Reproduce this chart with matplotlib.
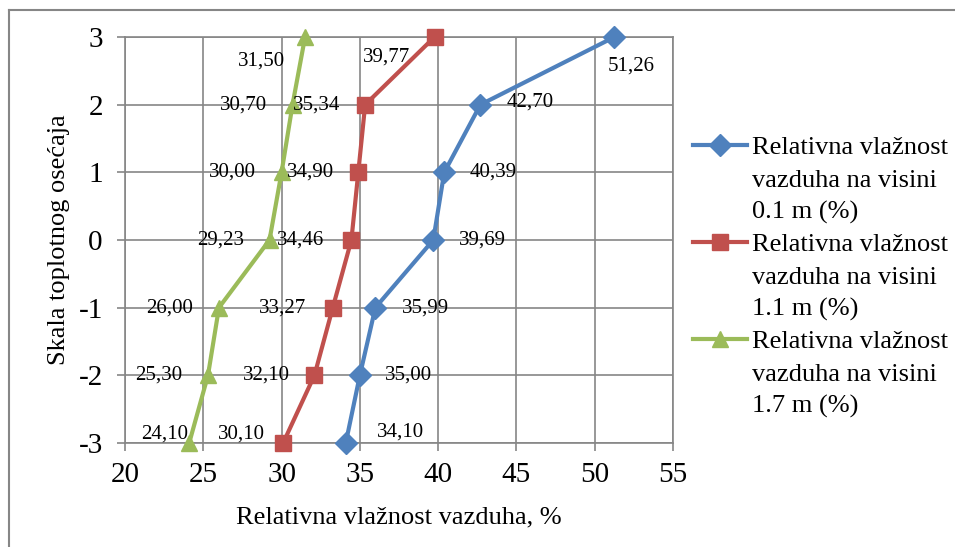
import matplotlib.pyplot as plt
from matplotlib.lines import Line2D

plt.rcParams["font.family"] = ["Liberation Serif", "DejaVu Serif"]
plt.rcParams["axes.unicode_minus"] = False

levels = [-3, -2, -1, 0, 1, 2, 3]
rh_01 = [34.10, 35.00, 35.99, 39.69, 40.39, 42.70, 51.26]
rh_11 = [30.10, 32.10, 33.27, 34.46, 34.90, 35.34, 39.77]
rh_17 = [24.10, 25.30, 26.00, 29.23, 30.00, 30.70, 31.50]

seriesNames = ["0.1 m (%)", "1.1 m (%)", "1.7 m (%)"]
colors = ["#4F81BD", "#C0504D", "#9BBB59"]
markers = ["D", "s", "^"]
markerSizes = [11, 12, 12]

# label offsets (pixels) per point, roughly like the excel layout
offsets_01 = [(55, 11), (49, 0), (50, 0), (49, 0), (49, 0), (50, 3), (17, -29)]
offsets_11 = [(-42, 9), (-48, 0), (-50, 0), (-51, 0), (-48, 0), (-49, 0), (-48, -20)]
offsets_17 = [(-25, 9), (-49, 0), (-49, 0), (-49, 0), (-49, 0), (-49, 0), (-44, -24)]

fig = plt.figure(figsize=(9.55, 5.47), dpi=100)
ax = fig.add_axes([125 / 955, 1 - 443 / 547, 548 / 955, 406 / 547])

allData = [rh_01, rh_11, rh_17]
allOffsets = [offsets_01, offsets_11, offsets_17]
handles = []
for vals, col, mk, ms, offs in zip(allData, colors, markers, markerSizes, allOffsets):
    ln, = ax.plot(vals, levels, color=col, linewidth=3, marker=mk,
                  markersize=ms, zorder=3, clip_on=False)
    handles.append(ln)
    for v, lv, off in zip(vals, levels, offs):
        ax.annotate(("%.2f" % v).replace(".", ","), (v, lv), xytext=off,
                    textcoords="offset pixels", ha="center", va="center",
                    fontsize=15, color="black", zorder=4)

ax.set_xlim(20, 55)
ax.set_ylim(-3, 3)
ax.set_xticks(range(20, 56, 5))
ax.set_yticks(levels)
ax.grid(True, color="#868686", linewidth=1.2)
ax.set_axisbelow(True)
for s in ax.spines.values():
    s.set_color("#868686")
    s.set_linewidth(1.2)
ax.tick_params(direction="out", length=6, width=1.2, color="#868686",
               labelsize=21)
ax.tick_params(axis="x", pad=8)
ax.tick_params(axis="y", pad=10)
ax.set_xlabel("Relativna vlažnost vazduha, %", fontsize=19, labelpad=13)
ax.set_ylabel("Skala toplotnog osećaja", fontsize=19, labelpad=6)

blank = Line2D([], [], color="none")
legHandles = []
legLabels = []
for h, name in zip(handles, seriesNames):
    legHandles += [h, blank, blank]
    legLabels += ["Relativna vlažnost", "vazduha na visini", name]
fig.legend(legHandles, legLabels, loc="upper left",
           bbox_to_anchor=(693 / 955, 1 - 136 / 547), frameon=False,
           fontsize=19, handlelength=2.05, handletextpad=0.2,
           labelspacing=0.33, borderpad=0, borderaxespad=0)

fig.add_artist(Line2D([9 / 955, 9 / 955], [0, 1 - 10 / 547], color="#868686", linewidth=1.5))
fig.add_artist(Line2D([9 / 955, 1], [1 - 10 / 547, 1 - 10 / 547], color="#868686", linewidth=1.5))

fig.savefig("out.png", dpi=100)
